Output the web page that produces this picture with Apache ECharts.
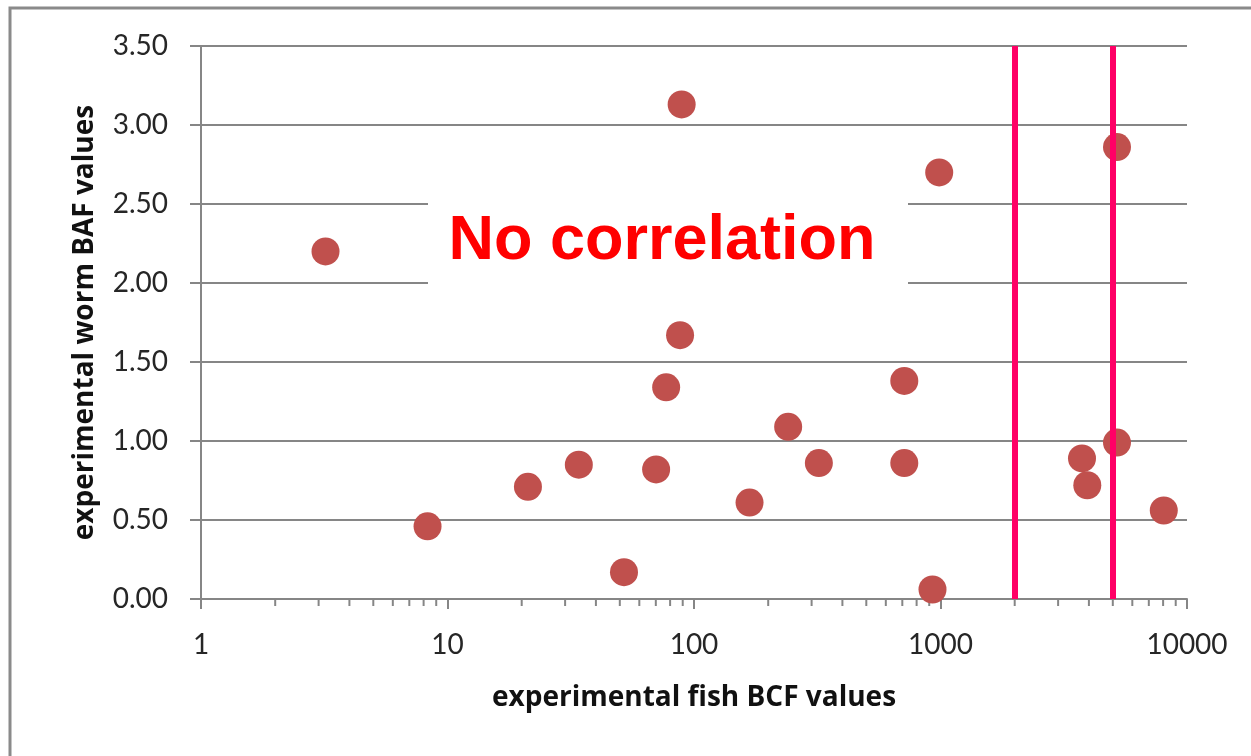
<!DOCTYPE html>
<html>
<head>
<meta charset="utf-8">
<script src="https://cdn.jsdelivr.net/npm/echarts@6/dist/echarts.min.js"></script>
<style>
  html, body { margin: 0; padding: 0; background: #ffffff; }
  #chart { width: 1251px; height: 756px; }
</style>
</head>
<body>
<div id="chart"></div>
<script>
// Experimental fish BCF (x, log scale) against worm BAF (y)
const fishBCF = [3.2, 8.3, 21.2, 34.1, 52.0, 70.2, 77.1, 87.8, 89.1, 168, 241, 321, 713, 713, 928, 988, 3750, 3940, 5200, 5200, 8050];
const wormBAF = [2.20, 0.46, 0.71, 0.85, 0.17, 0.82, 1.34, 1.67, 3.13, 0.61, 1.09, 0.86, 1.38, 0.86, 0.06, 2.70, 0.89, 0.72, 0.99, 2.86, 0.56];

// Threshold markers on the BCF axis
const bcfThresholds = [2000, 5000];

// Axis ticks
const xMajorTicks = [1, 10, 100, 1000, 10000];
const xMinorTicks = [2, 3, 4, 5, 6, 7, 8, 9,
                     20, 30, 40, 50, 60, 70, 80, 90,
                     200, 300, 400, 500, 600, 700, 800, 900,
                     2000, 3000, 4000, 5000, 6000, 7000, 8000, 9000];
const yTicks = [0, 0.5, 1.0, 1.5, 2.0, 2.5, 3.0, 3.5];

const xTitle = 'experimental fish BCF values';
const yTitle = 'experimental worm BAF values';
const note = 'No correlation';

const gray = '#868686';
const labelFont = 'Lato, "Open Sans", sans-serif';
const titleFont = '"Open Sans", Lato, sans-serif';

const chart = echarts.init(document.getElementById('chart'), null, { renderer: 'canvas' });

const option = {
  animation: false,
  backgroundColor: '#ffffff',
  grid: { left: 201, right: 64, top: 46, bottom: 157, containLabel: false },
  xAxis: {
    type: 'log',
    logBase: 10,
    min: xMajorTicks[0],
    max: xMajorTicks[xMajorTicks.length - 1],
    name: xTitle,
    nameLocation: 'middle',
    nameGap: 85,
    nameTextStyle: { fontFamily: titleFont, fontWeight: 'bold', fontSize: 28, color: '#111' },
    axisLine: { show: true, lineStyle: { color: gray, width: 2 } },
    axisTick: { show: true, length: 10, lineStyle: { color: gray, width: 2 } },
    axisLabel: {
      margin: 32,
      fontFamily: labelFont, fontSize: 28, color: '#262626',
      formatter: v => String(Math.round(v))
    },
    splitLine: { show: false },
    minorTick: { show: false }
  },
  yAxis: {
    type: 'value',
    min: yTicks[0],
    max: yTicks[yTicks.length - 1],
    interval: 0.5,
    name: yTitle,
    nameLocation: 'middle',
    nameGap: 102,
    nameTextStyle: { fontFamily: titleFont, fontWeight: 'bold', fontSize: 28, color: '#111' },
    axisLine: { show: true, lineStyle: { color: gray, width: 2 } },
    axisTick: { show: true, length: 11, lineStyle: { color: gray, width: 2 } },
    axisLabel: {
      margin: 33,
      fontFamily: labelFont, fontSize: 28, color: '#262626',
      formatter: v => v.toFixed(2)
    },
    splitLine: { show: true, lineStyle: { color: gray, width: 2 } }
  },
  series: [
    {
      // short minor ticks at 2..9 of each decade
      type: 'custom',
      silent: true,
      clip: false,
      z: 1,
      data: xMinorTicks.map(v => [v, 0]),
      renderItem: (params, api) => {
        const p = api.coord([api.value(0), 0]);
        return {
          type: 'line',
          shape: { x1: p[0], y1: p[1], x2: p[0], y2: p[1] + 7 },
          style: { stroke: gray, lineWidth: 2 }
        };
      }
    },
    {
      type: 'scatter',
      symbol: 'circle',
      symbolSize: 28,
      z: 3,
      itemStyle: { color: '#C0504D', opacity: 1 },
      data: fishBCF.map((x, i) => [x, wormBAF[i]])
    },
    {
      // vertical threshold lines
      type: 'line',
      data: [],
      z: 5,
      markLine: {
        silent: true,
        symbol: ['none', 'none'],
        label: { show: false },
        lineStyle: { color: '#FF0066', width: 6, type: 'solid' },
        data: bcfThresholds.map(v => ({ xAxis: v }))
      }
    }
  ],
  graphic: [
    {
      type: 'rect',
      z: 100,
      silent: true,
      shape: { x: 10, y: 8, width: 1300, height: 800 },
      style: { fill: 'none', stroke: '#8a8a8a', lineWidth: 3 }
    },
    {
      type: 'rect',
      z: 50,
      silent: true,
      shape: { x: 428, y: 192, width: 480, height: 104 },
      style: { fill: '#ffffff' }
    },
    {
      type: 'text',
      z: 51,
      silent: true,
      x: 662,
      y: 242,
      style: {
        text: note,
        fill: '#FF0000',
        font: 'bold 63px "Liberation Sans", Arial, sans-serif',
        textAlign: 'center',
        textVerticalAlign: 'middle'
      }
    }
  ]
};

chart.setOption(option);
</script>
</body>
</html>
